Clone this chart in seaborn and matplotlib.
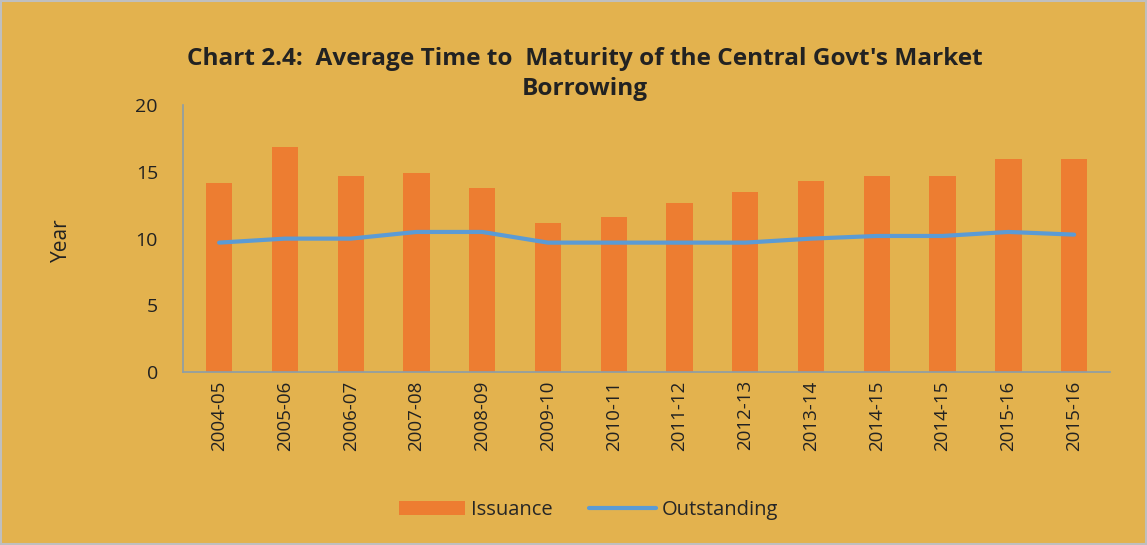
import matplotlib
matplotlib.use('Agg')
import matplotlib.pyplot as plt
import seaborn as sns
import numpy as np
import pandas as pd

years = ['2004-05', '2005-06', '2006-07', '2007-08', '2008-09', '2009-10', '2010-11',
         '2011-12', '2012-13', '2013-14', '2014-15', '2014-15', '2015-16', '2015-16']
issuance = [14.2, 16.9, 14.7, 14.9, 13.8, 11.2, 11.6, 12.7, 13.5, 14.3, 14.7, 14.7, 15.95, 15.95]
outstanding = [9.7, 10.0, 10.0, 10.5, 10.5, 9.7, 9.7, 9.7, 9.7, 10.0, 10.2, 10.2, 10.5, 10.3]

bg = '#E3B24E'
bar_color = '#ED7D31'
line_color = '#5B9BD5'

sns.set_style('white')
plt.rcParams['font.family'] = ['Open Sans', 'DejaVu Sans']

df = pd.DataFrame({'idx': np.arange(len(years)), 'Issuance': issuance, 'Outstanding': outstanding})

fig = plt.figure(figsize=(11.47, 5.45), dpi=100, facecolor=bg)
ax = fig.add_axes([0.1595, 0.3174, 0.8085, 0.4895])
ax.set_facecolor(bg)

sns.barplot(data=df, x='idx', y='Issuance', color=bar_color, width=0.4,
            saturation=1, linewidth=0, edgecolor=bar_color, label='Issuance', ax=ax)
sns.lineplot(data=df, x='idx', y='Outstanding', color=line_color, linewidth=3,
             label='Outstanding', ax=ax)

ax.set_xlim(-0.55, len(years) - 0.45)
ax.set_ylim(0, 20)
ax.set_yticks([0, 5, 10, 15, 20])
ax.set_xticks(np.arange(len(years)))
ax.set_xticklabels(years, rotation=90, fontsize=13.5, color='#222222')
ax.tick_params(axis='y', labelsize=14, colors='#222222', length=0, pad=18)
ax.tick_params(axis='x', length=0, pad=6)
ax.set_xlabel('')
ax.set_ylabel('')

for s in ['top', 'right']:
    ax.spines[s].set_visible(False)
for s in ['left', 'bottom']:
    ax.spines[s].set_color('#8C9DA8')
    ax.spines[s].set_linewidth(1.2)

fig.text(0.054, 0.56, 'Year', rotation=90, fontsize=15, color='#222222',
         ha='center', va='center')
fig.text(0.51, 0.864, "Chart 2.4:  Average Time to  Maturity of the Central Govt's Market\nBorrowing",
         fontsize=17.6, fontweight='bold', color='#222222', ha='center', va='center',
         linespacing=1.35)

handles, labels = ax.get_legend_handles_labels()
order = [labels.index('Issuance'), labels.index('Outstanding')]
ax.legend([handles[i] for i in order], [labels[i] for i in order],
          loc='center', bbox_to_anchor=(0.513, 0.064), bbox_transform=fig.transFigure,
          ncol=2, frameon=False, fontsize=14.5, handlelength=3.3, handletextpad=0.3,
          columnspacing=1.8)

# thin grey frame round the whole picture
fig.add_artist(plt.Rectangle((0.001, 0.002), 0.998, 0.996, transform=fig.transFigure,
                             fill=False, edgecolor='#BFBFBF', linewidth=1.5))

plt.savefig('out.png', dpi=100, facecolor=bg)
